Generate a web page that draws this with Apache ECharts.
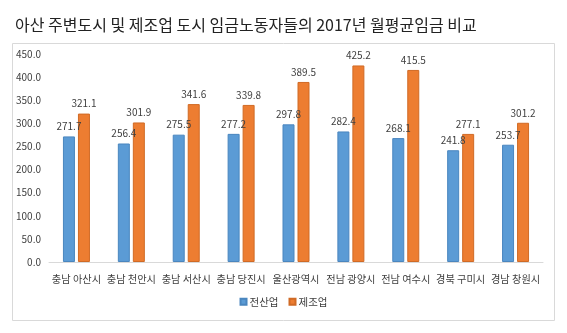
<!DOCTYPE html>
<html>
<head>
<meta charset="utf-8">
<script src="https://cdn.jsdelivr.net/npm/echarts@6/dist/echarts.min.js"></script>
<style>html,body{margin:0;padding:0;background:#fff;}#c{width:567px;height:333px;}</style>
</head>
<body>
<div id="c"></div>
<script>
const titleText = '아산 주변도시 및 제조업 도시 임금노동자들의 2017년 월평균임금 비교';
const categories = ['충남 아산시','충남 천안시','충남 서산시','충남 당진시','울산광역시','전남 광양시','전남 여수시','경북 구미시','경남 창원시'];
const seriesNames = ['전산업','제조업'];
const allIndustry = [271.7, 256.4, 275.5, 277.2, 297.8, 282.4, 268.1, 241.8, 253.7];
const manufacturing = [321.1, 301.9, 341.6, 339.8, 389.5, 425.2, 415.5, 277.1, 301.2];
const yMin = 0, yMax = 450, yStep = 50;

const font = '"Noto Sans CJK KR", "Noto Sans", sans-serif';
const chart = echarts.init(document.getElementById('c'), null, {renderer:'canvas'});
chart.setOption({
  animation: false,
  textStyle: {fontFamily: font},
  title: {
    text: titleText, left: 10, top: 12,
    textStyle: {fontFamily: font, fontSize: 16, fontWeight: 'normal', color: '#222'}
  },
  graphic: [{
    type: 'rect', left: 12, top: 43, z: -1,
    shape: {width: 542, height: 277},
    style: {fill: '#fff', stroke: '#d9d9d9', lineWidth: 1}
  }],
  legend: {
    data: seriesNames, bottom: 21, left: 'center',
    icon: 'rect', itemWidth: 6, itemHeight: 6, itemGap: 10,
    textStyle: {fontSize: 10.5, color: '#404040', fontFamily: font, padding: [0,0,0,-2]}
  },
  grid: {left: 49, right: 24, top: 54, bottom: 71, containLabel: false},
  xAxis: {
    type: 'category', data: categories,
    axisLine: {lineStyle: {color: '#d9d9d9'}},
    axisTick: {show: false},
    axisLabel: {fontSize: 10.2, color: '#404040', margin: 12, interval: 0, fontFamily: font}
  },
  yAxis: {
    type: 'value', min: yMin, max: yMax, interval: yStep,
    axisLine: {show: false}, axisTick: {show: false},
    splitLine: {show: false},
    axisLabel: {fontSize: 10, color: '#404040', margin: 8, formatter: v => v.toFixed(1), fontFamily: font}
  },
  series: [
    {name: seriesNames[0], type: 'bar', data: allIndustry, barWidth: 12, barGap: '25%',
     itemStyle: {color: '#5B9BD5', borderColor: '#4A86BF', borderWidth: 1},
     label: {show: true, position: 'top', distance: 5, fontSize: 10, color: '#404040', formatter: p => p.value.toFixed(1)}},
    {name: seriesNames[1], type: 'bar', data: manufacturing, barWidth: 12,
     itemStyle: {color: '#ED7D31', borderColor: '#D06A25', borderWidth: 1},
     label: {show: true, position: 'top', distance: 5, fontSize: 10, color: '#404040', formatter: p => p.value.toFixed(1)}}
  ]
});
</script>
</body>
</html>
